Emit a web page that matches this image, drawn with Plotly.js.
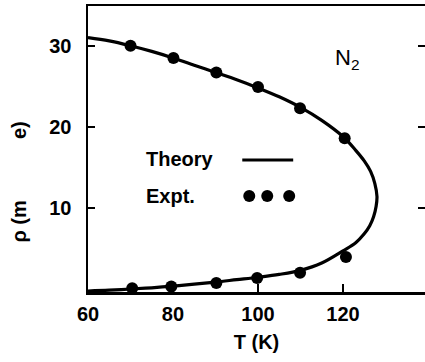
<!DOCTYPE html>
<html>
<head>
<meta charset="utf-8">
<script src="https://cdn.plot.ly/plotly-3.0.1.min.js"></script>
<style>html,body{margin:0;padding:0;background:#fff;}#chart{width:425px;height:362px;}</style>
</head>
<body>
<div id="chart"></div>
<script>
// Experimental points (liquid and vapour branches)
const exptLiquidT = [70.0, 80.1, 90.2, 100.0, 109.9, 120.4];
const exptLiquidRho = [30.0, 28.5, 26.7, 24.9, 22.3, 18.6];
const exptVaporT = [70.4, 79.6, 90.2, 99.8, 109.9, 120.7];
const exptVaporRho = [0.1, 0.3, 0.75, 1.35, 2.0, 3.95];

// Theory coexistence curve (upper branch then lower branch)
const theoryUpperT = [60, 65, 70, 75, 80, 85, 90, 95, 100, 105, 110, 115, 120, 123, 125, 126.5, 127.5, 128.0];
const theoryUpperRho = [31.0, 30.6, 30.0, 29.3, 28.5, 27.6, 26.7, 25.8, 24.8, 23.7, 22.4, 20.8, 18.8, 17.1, 15.8, 14.5, 13.0, 11.4];
const theoryLowerT = [127.8, 127.2, 126.3, 125, 123, 120, 115, 110, 105, 100, 95, 90, 85, 80, 75, 70, 65, 60];
const theoryLowerRho = [10.2, 8.9, 7.8, 6.8, 5.7, 4.7, 3.2, 2.3, 1.8, 1.45, 1.15, 0.85, 0.6, 0.35, 0.15, 0.0, -0.15, -0.25];

const xTicks = [60, 80, 100, 120];
const yTicks = [10, 20, 30];

const FONT = "Liberation Sans, Arial, Helvetica, sans-serif";

// pixel -> paper helpers for layout decorations
const PL = 87.5, PR = 425, PT = 6, PB = 292;
const px = v => (v - PL) / (PR - PL);
const py = v => (PB - v) / (PB - PT);

const traces = [
  {
    x: theoryUpperT.concat(theoryLowerT),
    y: theoryUpperRho.concat(theoryLowerRho),
    mode: 'lines',
    line: {color: '#000', width: 3.2, shape: 'spline', smoothing: 1},
    name: 'Theory',
    showlegend: false,
    hoverinfo: 'skip'
  },
  {
    x: exptLiquidT.concat(exptVaporT),
    y: exptLiquidRho.concat(exptVaporRho),
    mode: 'markers',
    marker: {color: '#000', size: 12},
    name: 'Expt.',
    showlegend: false
  }
];

const layout = {
  width: 425, height: 362,
  margin: {l: 87.5, r: 0, t: 6, b: 70},
  paper_bgcolor: '#fff', plot_bgcolor: '#fff',
  font: {family: FONT, color: '#000', size: 19},
  showlegend: false,
  xaxis: {
    range: [60, 139.3],
    tickvals: xTicks, ticktext: xTicks.map(String),
    ticks: 'inside', ticklen: 8, tickwidth: 2, tickcolor: '#000',
    showline: true, linewidth: 2.5, linecolor: '#000', mirror: true,
    showgrid: false, zeroline: false,
    tickfont: {family: FONT, size: 20, weight: 'bold'},
    ticklabelstandoff: 2,
    title: {text: 'T (K)', font: {family: FONT, size: 20, weight: 'bold'}, standoff: 12}
  },
  yaxis: {
    range: [-0.37, 34.9],
    tickvals: yTicks, ticktext: yTicks.map(String),
    ticks: 'inside', ticklen: 7, tickwidth: 2, tickcolor: '#000',
    showline: true, linewidth: 2.5, linecolor: '#000', mirror: 'ticks',
    showgrid: false, zeroline: false,
    tickfont: {family: FONT, size: 20, weight: 'bold'},
    ticklabelstandoff: 10
  },
  annotations: [
    {xref: 'paper', yref: 'paper', x: px(18), y: py(182), xanchor: 'center', yanchor: 'middle',
     textangle: -90, showarrow: false,
     text: 'ρ (m' + '\u00a0'.repeat(11) + 'e)',
     font: {family: FONT, size: 20, weight: 'bold'}},
    {xref: 'paper', yref: 'paper', x: px(347), y: py(59), xanchor: 'center', yanchor: 'middle',
     showarrow: false, text: 'N<sub>2</sub>', font: {family: FONT, size: 22}},
    {xref: 'paper', yref: 'paper', x: px(144), y: py(159), xanchor: 'left', yanchor: 'middle',
     showarrow: false, text: 'Theory', font: {family: FONT, size: 20, weight: 'bold'}},
    {xref: 'paper', yref: 'paper', x: px(144), y: py(196), xanchor: 'left', yanchor: 'middle',
     showarrow: false, text: 'Expt.', font: {family: FONT, size: 20, weight: 'bold'}}
  ],
  shapes: [
    {type: 'line', xref: 'paper', yref: 'paper', x0: px(242), x1: px(293), y0: py(160), y1: py(160),
     line: {color: '#000', width: 3}},
    ...[249, 267, 289].map(cx => ({
      type: 'circle', xref: 'paper', yref: 'paper', xsizemode: 'pixel', ysizemode: 'pixel',
      xanchor: px(cx), yanchor: py(196), x0: -6, x1: 6, y0: -6, y1: 6,
      fillcolor: '#000', line: {color: '#000', width: 0}
    }))
  ]
};

Plotly.newPlot('chart', traces, layout, {displayModeBar: false, staticPlot: true});
</script>
</body>
</html>
